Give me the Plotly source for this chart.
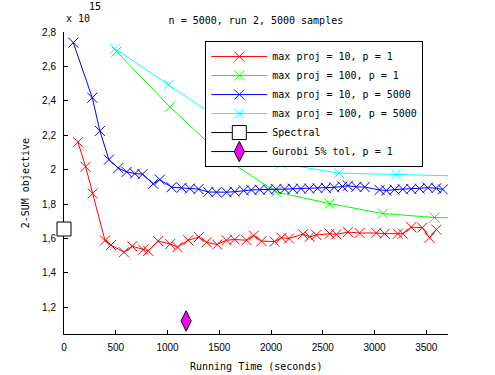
import plotly.graph_objects as go

# running time (s) / 2-SUM objective (x 1e15)
t_10_p1 = [135, 209, 277, 396, 454, 579, 659, 765, 814, 910, 1026, 1097, 1200,
           1303, 1377, 1480, 1570, 1650, 1763, 1834, 1908, 2036, 2101, 2174,
           2309, 2374, 2438, 2567, 2631, 2744, 2856, 3017, 3098, 3226, 3274,
           3355, 3461, 3532, 3597]
obj_10_p1 = [2.16, 2.017, 1.862, 1.588, 1.562, 1.52, 1.555, 1.535, 1.528, 1.585,
             1.568, 1.55, 1.59, 1.608, 1.578, 1.565, 1.59, 1.594, 1.59, 1.617,
             1.585, 1.582, 1.604, 1.6, 1.625, 1.61, 1.62, 1.628, 1.624, 1.637,
             1.632, 1.632, 1.628, 1.628, 1.628, 1.666, 1.663, 1.604, 1.652]

t_100_p1 = [508, 1023, 1554, 2052, 2567, 3081, 3580, 4090]
obj_100_p1 = [2.686, 2.365, 2.065, 1.87, 1.803, 1.745, 1.722, 1.715]

t_10_p5000 = [90, 273, 347, 434, 524, 605, 685, 759, 862, 926, 1039, 1136, 1216,
              1300, 1393, 1473, 1570, 1650, 1737, 1811, 1891, 1972, 2050, 2131,
              2211, 2290, 2370, 2450, 2530, 2610, 2690, 2744, 2824, 2905, 3049,
              3114, 3194, 3274, 3355, 3435, 3515, 3597, 3660]
obj_10_p5000 = [2.738, 2.418, 2.225, 2.058, 2.009, 1.987, 1.977, 1.974, 1.918,
                1.942, 1.898, 1.895, 1.89, 1.887, 1.87, 1.869, 1.869, 1.872,
                1.879, 1.882, 1.884, 1.884, 1.887, 1.887, 1.889, 1.89, 1.89,
                1.892, 1.894, 1.897, 1.902, 1.907, 1.9, 1.899, 1.882, 1.879,
                1.884, 1.886, 1.888, 1.89, 1.895, 1.892, 1.885]

t_100_p5000 = [492, 1013, 1560, 2100, 2657, 3210, 3760]
obj_100_p5000 = [2.703, 2.494, 2.27, 2.035, 1.98, 1.972, 1.964]

spectral_t = [0]
spectral_obj = [1.655]
gurobi_t = [1180]
gurobi_obj = [1.121]

mono = "DejaVu Sans Mono"

fig = go.Figure()

def xline(name, t, obj, color):
    fig.add_trace(go.Scatter(
        x=t, y=obj, name=name, mode="lines+markers",
        line=dict(color=color, width=1),
        marker=dict(symbol="x-thin", size=10, line=dict(color=color, width=1)),
    ))

xline("max proj = 10, p = 1", t_10_p1, obj_10_p1, "#ff0000")
xline("max proj = 100, p = 1", t_100_p1, obj_100_p1, "#00ff00")
xline("max proj = 10, p = 5000", t_10_p5000, obj_10_p5000, "#0000ff")
xline("max proj = 100, p = 5000", t_100_p5000, obj_100_p5000, "#00ffff")

fig.add_trace(go.Scatter(
    x=spectral_t, y=spectral_obj, name="Spectral", mode="lines+markers",
    line=dict(color="black", width=1), cliponaxis=False,
    marker=dict(symbol="square", size=14, color="white",
                line=dict(color="black", width=1)),
))
fig.add_trace(go.Scatter(
    x=gurobi_t, y=gurobi_obj, name="Gurobi 5% tol, p = 1", mode="lines+markers",
    line=dict(color="black", width=1), cliponaxis=False,
    marker=dict(symbol="diamond-tall", size=14.5, color="#ff00ff",
                line=dict(color="black", width=1)),
))

tickfont = dict(family="Liberation Sans Narrow, Liberation Sans", size=10, color="black")

fig.update_layout(
    width=495, height=375,
    margin=dict(l=64, r=47, t=32, b=41),
    plot_bgcolor="white", paper_bgcolor="white",
    separators=",.",
    font=dict(family=mono, size=10, color="black"),
    title=dict(text="n = 5000, run 2, 5000 samples", x=0.517, xanchor="center",
               y=1 - 20 / 375, yanchor="middle", font=dict(family=mono, size=10)),
    showlegend=True,
    legend=dict(x=0.368, y=0.97, xanchor="left", yanchor="top",
                bgcolor="white", bordercolor="black", borderwidth=1,
                font=dict(family=mono, size=10), tracegroupgap=0,
                itemwidth=56),
)

fig.update_xaxes(
    range=[0, 3710], tickvals=[0, 500, 1000, 1500, 2000, 2500, 3000, 3500],
    showline=True, linecolor="black", linewidth=1, showgrid=False, zeroline=False,
    ticks="inside", ticklen=4, tickcolor="black", tickfont=tickfont,
    ticklabelstandoff=4, layer="below traces",
)
fig.update_yaxes(
    range=[1.045, 2.8], tickvals=[1.2, 1.4, 1.6, 1.8, 2.0, 2.2, 2.4, 2.6, 2.8],
    showline=True, linecolor="black", linewidth=1, showgrid=False, zeroline=False,
    ticks="inside", ticklen=4, tickcolor="black", tickfont=tickfont,
    ticklabelstandoff=5, layer="below traces",
)

fig.add_annotation(text="Running Time (seconds)", xref="paper", yref="paper",
                   x=0.5, y=-0.108, xanchor="center", yanchor="middle",
                   showarrow=False, font=dict(family=mono, size=10))
fig.add_annotation(text="2-SUM objective", xref="paper", yref="paper",
                   x=-0.1008, y=0.5, xanchor="center", yanchor="middle",
                   textangle=-90, showarrow=False, font=dict(family=mono, size=10))
fig.add_annotation(text="x 10", xref="paper", yref="paper",
                   x=-0.001, y=1.044, xanchor="left", yanchor="middle",
                   showarrow=False, font=dict(family=mono, size=10))
fig.add_annotation(text="15", xref="paper", yref="paper",
                   x=0.06, y=1.083, xanchor="left", yanchor="middle",
                   showarrow=False, font=dict(family=mono, size=10))

# drop the page's default 8px body margin so the figure sits at the window's corner
fig.write_html("out.html", config={"displayModeBar": False},
               post_script="document.body.style.margin='0';")
